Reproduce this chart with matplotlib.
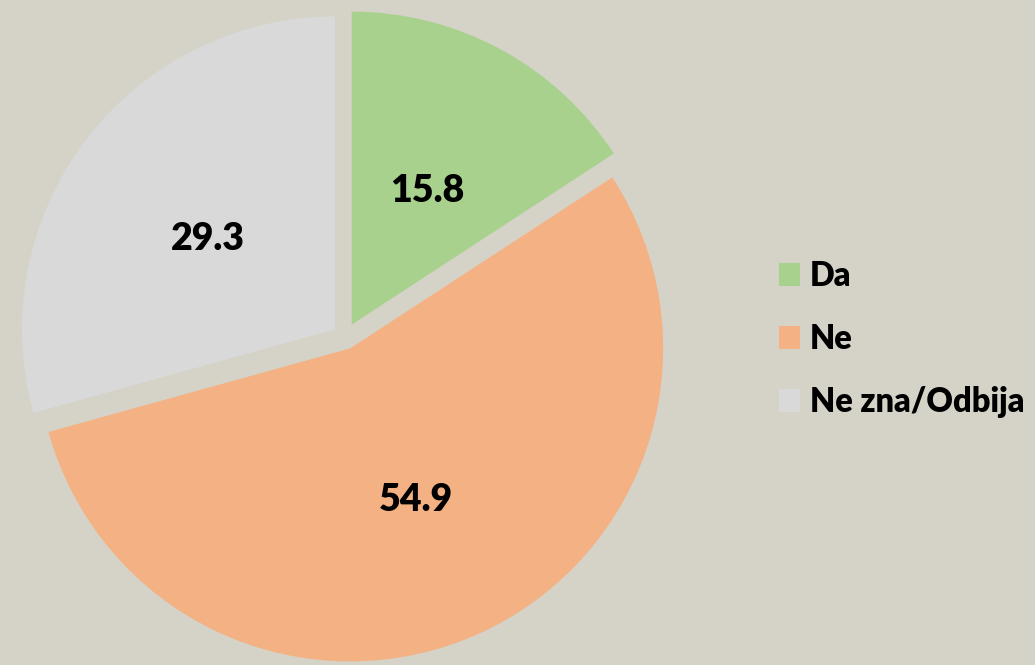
import matplotlib

matplotlib.use("Agg")

import matplotlib.pyplot as plt
from matplotlib.patches import Patch

categories = ["Da", "Ne", "Ne zna/Odbija"]
values = [15.8, 54.9, 29.3]
colors = ["#a9d18e", "#f4b183", "#d9d9d9"]
explode = [0.045, 0.04, 0.04]

bg = "#d5d3c7"

fig = plt.figure(figsize=(10.35, 6.65), dpi=100, facecolor=bg)
# pie axes placed in pixels: centre ~ (345, 328 from bottom), radius 313 px
R = 313
cx, cy = 345, 328
ax = fig.add_axes([(cx - R) / 1035, (cy - R) / 665, 2 * R / 1035, 2 * R / 665])
ax.set_facecolor(bg)

wedges, texts, autotexts = ax.pie(
    values,
    colors=colors,
    explode=explode,
    startangle=90,
    counterclock=False,
    autopct=lambda p: "{0:.1f}".format(p),
    pctdistance=0.51,
    textprops={"family": "Lato", "weight": "heavy", "fontsize": 27, "color": "black"},
    wedgeprops={"linewidth": 0},
)
for w in wedges:
    w.set_clip_on(False)
for t in autotexts:
    x, y = t.get_position()
    t.set_position((x, y - 0.02))
ax.set_xlim(-1, 1)
ax.set_ylim(-1, 1)
ax.set_aspect("equal")
ax.axis("off")

handles = [Patch(facecolor=c, edgecolor="none") for c in colors]
leg = fig.legend(
    handles,
    categories,
    loc="center left",
    bbox_to_anchor=(779 / 1035, 1 - 339 / 665),
    frameon=False,
    prop={"family": "Lato", "weight": "heavy", "size": 23.5},
    handlelength=0.65,
    handleheight=0.7,
    handletextpad=0.3,
    labelspacing=0.95,
    borderaxespad=0,
    borderpad=0,
)

fig.savefig("out.png", dpi=100, facecolor=bg)
